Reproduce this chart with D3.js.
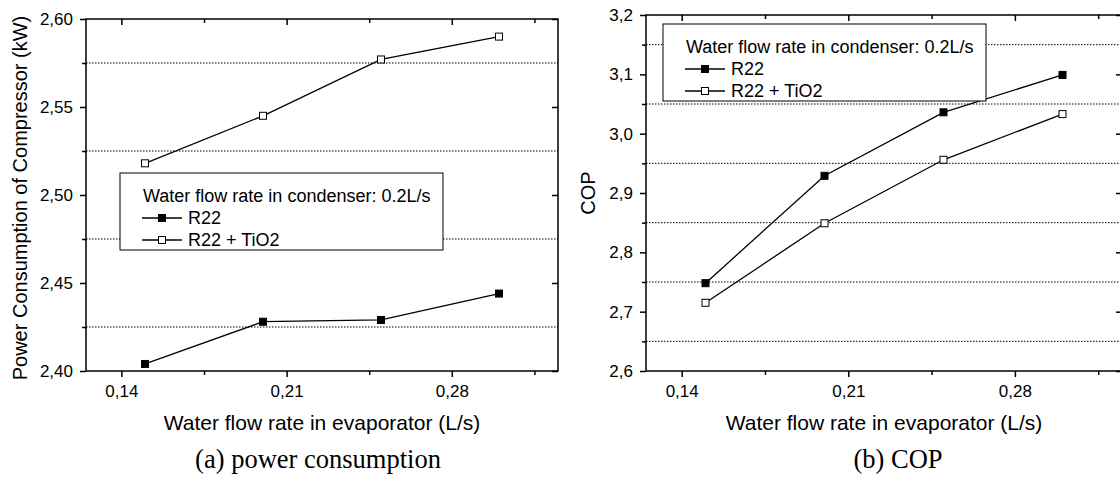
<!DOCTYPE html>
<html>
<head>
<meta charset="utf-8">
<script src="https://cdn.jsdelivr.net/npm/d3@7"></script>
<style>
	body { margin: 0; background: #fff; }
	svg { display: block; font-family: "Liberation Sans", Arial, sans-serif; }
	.axis path, .axis line { stroke: #000; stroke-width: 1.5; }
	.axis text { font-size: 17px; fill: #000; }
	.grid { stroke: #000; stroke-width: 1; stroke-dasharray: 1.5, 1.5; }
	.series { fill: none; stroke: #000; stroke-width: 1.3; }
	.caption { font-family: "Liberation Serif", "Times New Roman", serif; font-size: 26.5px; }
</style>
</head>
<body>
<svg id="chart" width="1120" height="485"></svg>
<script>
// data
var flowRates = [0.15, 0.20, 0.25, 0.30];
var xMajorTicks = [0.14, 0.21, 0.28];
var xMinorTicks = [0.175, 0.245, 0.315];

var powerR22 = [2.404, 2.428, 2.429, 2.444];
var powerR22TiO2 = [2.518, 2.545, 2.577, 2.590];
var powerMajorTicks = [2.40, 2.45, 2.50, 2.55, 2.60];
var powerMinorTicks = [2.425, 2.475, 2.525, 2.575];

var copR22 = [2.748, 2.929, 3.036, 3.099];
var copR22TiO2 = [2.715, 2.849, 2.956, 3.033];
var copMajorTicks = [2.6, 2.7, 2.8, 2.9, 3.0, 3.1, 3.2];
var copMinorTicks = [2.65, 2.75, 2.85, 2.95, 3.05, 3.15];

var seriesNames = ["R22", "R22 + TiO2"];
var legendTitle = "Water flow rate in condenser: 0.2L/s";
var xTitle = "Water flow rate in evaporator (L/s)";

var svg = d3.select("#chart");

function comma(digits) {
	return function(d) { return d.toFixed(digits).replace(".", ","); };
}

function drawPanel(opt) {
	var x = d3.scaleLinear().domain([0.125, 0.325]).range([opt.left, opt.right]);
	var y = d3.scaleLinear().domain(opt.yDomain).range([opt.bottom, opt.top]);
	var g = svg.append("g");

	// dotted grid at the minor y values
	g.selectAll("line.grid")
		.data(opt.yMinor)
		.enter().append("line")
		.attr("class", "grid")
		.attr("x1", opt.left)
		.attr("x2", opt.right)
		.attr("y1", function(d) { return y(d); })
		.attr("y2", function(d) { return y(d); });

	// axes: bottom/left outward with labels, top/right inward
	g.append("g").attr("class", "axis")
		.attr("transform", "translate(0," + opt.bottom + ")")
		.call(d3.axisBottom(x).tickValues(xMinorTicks).tickSize(4).tickFormat(""));
	g.append("g").attr("class", "axis")
		.attr("transform", "translate(0," + opt.bottom + ")")
		.call(d3.axisBottom(x).tickValues(xMajorTicks).tickSize(6).tickPadding(8).tickFormat(comma(2)));
	g.append("g").attr("class", "axis")
		.attr("transform", "translate(0," + opt.top + ")")
		.call(d3.axisTop(x).tickValues(xMinorTicks).tickSize(-4).tickFormat(""));
	g.append("g").attr("class", "axis")
		.attr("transform", "translate(0," + opt.top + ")")
		.call(d3.axisTop(x).tickValues(xMajorTicks).tickSize(-6).tickFormat(""));

	g.append("g").attr("class", "axis")
		.attr("transform", "translate(" + opt.left + ",0)")
		.call(d3.axisLeft(y).tickValues(opt.yMinor).tickSize(4).tickFormat(""));
	g.append("g").attr("class", "axis")
		.attr("transform", "translate(" + opt.left + ",0)")
		.call(d3.axisLeft(y).tickValues(opt.yMajor).tickSize(6).tickPadding(7).tickFormat(comma(opt.yDigits)));
	g.append("g").attr("class", "axis")
		.attr("transform", "translate(" + opt.right + ",0)")
		.call(d3.axisRight(y).tickValues(opt.yMajor).tickSize(-6).tickFormat(""));

	g.selectAll(".axis .domain").remove();
	g.append("rect")
		.attr("x", opt.left).attr("y", opt.top)
		.attr("width", opt.right - opt.left).attr("height", opt.bottom - opt.top)
		.attr("fill", "none").attr("stroke", "#000").attr("stroke-width", 1.5);

	// series
	var line = d3.line()
		.x(function(d, i) { return x(flowRates[i]); })
		.y(function(d) { return y(d); });
	var series = [
		{values: opt.r22, fill: "#000"},
		{values: opt.tio2, fill: "#fff"}
	];
	series.forEach(function(s) {
		g.append("path").datum(s.values).attr("class", "series").attr("d", line);
		g.selectAll(null)
			.data(s.values)
			.enter().append("rect")
			.attr("x", function(d, i) { return x(flowRates[i]) - 3.5; })
			.attr("y", function(d) { return y(d) - 3.5; })
			.attr("width", 7).attr("height", 7)
			.attr("fill", s.fill).attr("stroke", "#000").attr("stroke-width", 1);
	});

	// legend
	var lg = g.append("g").attr("transform", "translate(" + opt.legend[0] + "," + opt.legend[1] + ")");
	lg.append("rect")
		.attr("width", 323).attr("height", 77)
		.attr("fill", "#fff").attr("stroke", "#000").attr("stroke-width", 1);
	lg.append("text")
		.attr("x", 23).attr("y", 23).attr("dy", "0.35em")
		.style("font-size", "18px")
		.text(legendTitle);
	series.forEach(function(s, i) {
		var yy = 45 + i * 22;
		lg.append("line")
			.attr("x1", 22).attr("x2", 62).attr("y1", yy).attr("y2", yy)
			.attr("stroke", "#000").attr("stroke-width", 1.3);
		lg.append("rect")
			.attr("x", 38.5).attr("y", yy - 3.5).attr("width", 7).attr("height", 7)
			.attr("fill", s.fill).attr("stroke", "#000").attr("stroke-width", 1);
		lg.append("text")
			.attr("x", 68).attr("y", yy).attr("dy", "0.35em")
			.style("font-size", "18px")
			.text(seriesNames[i]);
	});

	// titles
	svg.append("text")
		.attr("x", (opt.left + opt.right) / 2).attr("y", 430)
		.attr("text-anchor", "middle").style("font-size", "21px")
		.text(xTitle);
	svg.append("text")
		.attr("transform", "translate(" + opt.yTitleX + "," + opt.yTitleY + ") rotate(-90)")
		.attr("text-anchor", "middle").style("font-size", "20px")
		.text(opt.yTitle);
	svg.append("text")
		.attr("class", "caption")
		.attr("x", opt.captionX).attr("y", 468)
		.attr("text-anchor", "middle")
		.text(opt.caption);
}

drawPanel({
	left: 86, right: 558, top: 19, bottom: 371,
	yDomain: [2.40, 2.60], yMajor: powerMajorTicks, yMinor: powerMinorTicks, yDigits: 2,
	r22: powerR22, tio2: powerR22TiO2,
	legend: [120, 173],
	yTitle: "Power Consumption of Compressor (kW)", yTitleX: 27, yTitleY: 198,
	caption: "(a) power consumption", captionX: 318
});

drawPanel({
	left: 646, right: 1122, top: 15, bottom: 371,
	yDomain: [2.6, 3.2], yMajor: copMajorTicks, yMinor: copMinorTicks, yDigits: 1,
	r22: copR22, tio2: copR22TiO2,
	legend: [663, 24],
	yTitle: "COP", yTitleX: 595, yTitleY: 193,
	caption: "(b) COP", captionX: 898
});
</script>
</body>
</html>
